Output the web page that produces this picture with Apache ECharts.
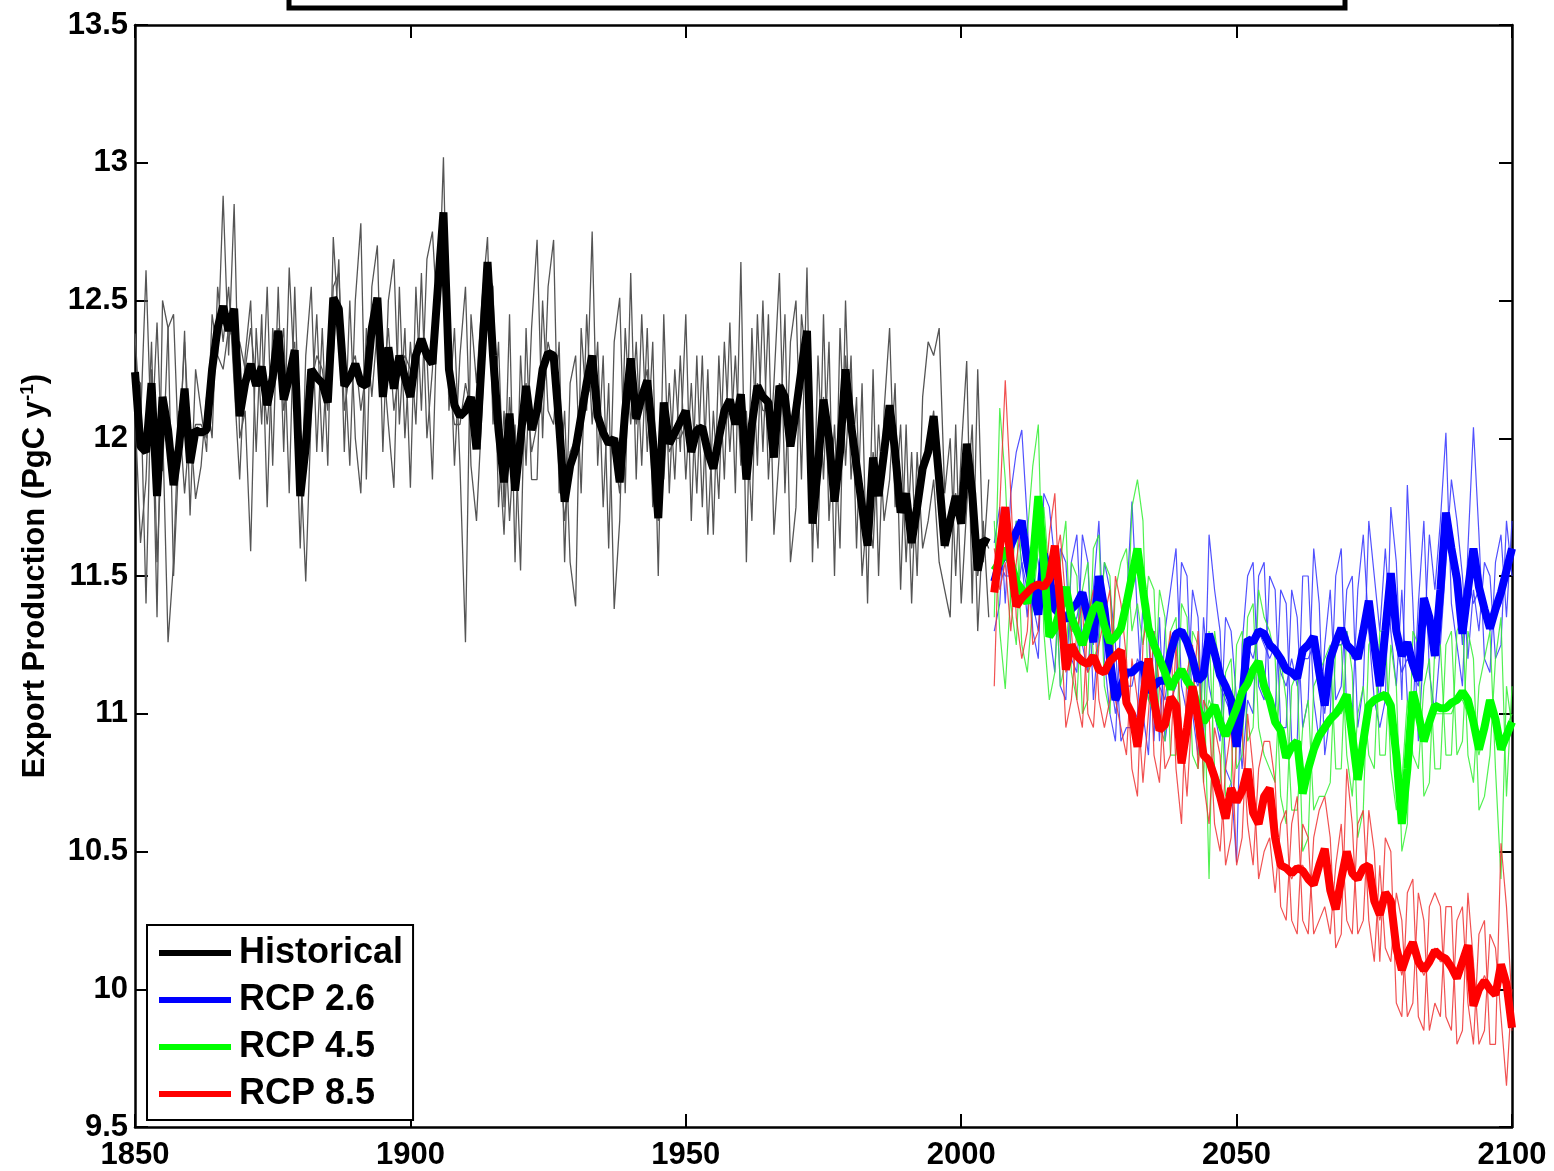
<!DOCTYPE html>
<html>
<head>
<meta charset="utf-8">
<script src="https://cdn.jsdelivr.net/npm/echarts@6/dist/echarts.min.js"></script>
<style>
html,body{margin:0;padding:0;background:#fff;}
#chart{width:1554px;height:1171px;}
</style>
</head>
<body>
<div id="chart"></div>
<script>
// ---------- DATA ----------
const histStart = 1850;   // historical runs 1850..2005
const rcpStart = 2006;    // scenarios 2006..2100
const xTicks = [1850, 1900, 1950, 2000, 2050, 2100];
const yTicks = [9.5, 10, 10.5, 11, 11.5, 12, 12.5, 13, 13.5];

const histMean = [
12.24,11.97,11.95,12.20,11.79,12.15,12.03,11.83,11.97,12.18,
11.91,12.03,12.02,12.03,12.25,12.40,12.48,12.39,12.47,12.08,
12.20,12.27,12.19,12.26,12.12,12.22,12.39,12.14,12.22,12.32,
11.79,11.97,12.25,12.22,12.20,12.13,12.51,12.47,12.19,12.22,
12.27,12.20,12.19,12.40,12.51,12.15,12.33,12.18,12.30,12.22,
12.15,12.30,12.36,12.30,12.27,12.55,12.82,12.25,12.12,12.08,
12.10,12.15,11.96,12.30,12.64,12.30,12.03,11.84,12.09,11.81,
12.00,12.19,12.03,12.10,12.25,12.31,12.30,12.05,11.77,11.90,
11.96,12.08,12.20,12.30,12.08,12.02,11.98,12.00,11.84,12.10,
12.29,12.07,12.15,12.21,12.00,11.71,12.13,11.98,12.02,12.06,
12.10,11.95,12.03,12.04,11.95,11.89,12.00,12.10,12.14,12.05,
12.16,11.85,12.05,12.19,12.15,12.13,11.93,12.19,12.15,11.97,
12.10,12.25,12.39,11.69,11.90,12.14,12.00,11.77,11.95,12.25,
12.05,11.90,11.75,11.61,11.93,11.79,11.95,12.12,11.95,11.73,
11.80,11.62,11.75,11.89,11.95,12.08,11.85,11.61,11.70,11.79,
11.69,11.98,11.80,11.52,11.63,11.62];

const histRunA = [
12.38,12.05,12.61,11.98,12.42,11.88,12.40,12.45,11.90,12.39,
11.72,12.25,12.10,11.95,12.45,12.30,12.88,12.30,12.85,12.00,
12.10,11.59,12.40,12.05,12.55,11.90,12.55,11.95,12.62,12.20,
11.60,12.30,12.55,11.95,12.40,11.90,12.73,12.40,12.30,11.90,
12.50,12.78,11.85,12.55,12.70,11.95,12.50,12.65,12.05,12.40,
11.82,12.55,12.10,12.65,12.75,12.40,13.02,12.10,12.40,11.90,
11.26,12.45,12.20,12.50,12.73,12.05,12.35,11.75,12.45,11.55,
12.30,11.90,12.40,12.72,12.00,12.55,12.72,11.80,12.10,11.55,
11.39,12.40,12.10,12.75,11.90,12.30,11.60,12.35,12.51,11.80,
12.60,11.85,12.45,11.95,12.35,11.50,12.45,11.80,12.25,11.95,
12.45,11.70,12.30,11.75,12.25,11.65,12.30,11.85,12.42,11.80,
12.64,11.55,12.40,11.90,12.50,11.85,12.20,12.60,11.80,12.35,
12.50,11.85,12.62,11.55,12.30,11.85,12.35,11.50,12.40,11.90,
12.30,11.60,12.20,11.40,12.25,11.50,12.10,12.40,11.75,12.05,
11.55,11.95,11.50,12.15,12.35,12.30,12.40,11.80,12.00,11.50,
11.95,12.28,11.40,12.25,11.55,11.85];

const histRunB = [
12.10,11.62,11.85,12.35,11.55,12.05,11.26,11.55,12.10,11.80,
12.05,11.78,11.90,12.15,12.00,12.55,12.35,12.55,12.20,11.85,
12.30,12.50,11.95,12.45,11.75,12.40,12.25,12.40,11.80,12.55,
11.95,11.48,12.10,12.45,11.95,12.35,12.30,12.65,11.95,12.50,
12.00,11.80,12.40,12.15,12.40,12.30,12.05,11.82,12.55,12.00,
12.35,12.05,12.60,12.00,12.25,12.70,12.65,12.45,11.90,12.30,
12.55,11.90,11.70,12.10,12.60,12.55,11.75,12.10,11.70,12.05,
11.52,12.40,11.85,11.85,12.50,12.10,12.05,12.35,11.55,12.20,
12.30,11.80,12.45,12.05,12.35,11.75,12.20,11.38,11.70,12.40,
12.05,12.35,11.90,12.40,11.75,11.95,11.85,12.20,11.85,12.30,
11.85,12.20,11.80,12.30,11.65,12.10,11.78,12.35,11.95,12.30,
11.90,12.10,11.70,12.45,11.95,12.45,11.65,11.95,12.45,11.55,
11.75,12.45,12.25,11.90,11.60,12.45,11.70,12.05,11.60,12.50,
11.85,12.15,11.50,11.75,11.60,12.05,11.70,11.85,12.20,11.45,
12.05,11.40,11.95,11.60,11.70,11.85,11.55,11.45,11.35,12.05,
11.40,11.75,12.05,11.30,11.70,11.35];

const histRunC = [
12.22,12.20,11.40,12.25,11.35,12.50,12.40,11.50,11.95,12.35,
11.95,12.05,12.05,12.00,12.28,12.30,12.25,12.40,12.35,12.35,
12.25,12.40,12.20,12.25,12.05,12.30,12.40,12.10,12.25,12.35,
11.85,12.10,12.20,12.30,12.25,12.10,12.55,12.60,12.10,12.25,
12.30,12.10,12.25,12.45,12.45,12.20,12.40,12.10,12.25,12.30,
12.25,12.25,12.35,12.30,11.85,12.55,12.75,12.20,12.05,12.05,
12.20,12.10,12.00,12.35,12.55,12.25,12.00,11.65,12.15,11.85,
12.10,12.20,11.95,12.05,12.20,12.35,12.25,11.95,11.70,11.95,
12.00,12.05,12.15,12.20,12.05,12.05,12.00,11.95,11.80,12.15,
12.25,12.05,12.15,12.25,11.90,11.70,12.10,11.95,12.00,12.00,
12.05,11.95,12.05,12.00,11.95,11.90,11.95,12.05,12.10,12.05,
12.15,11.90,12.05,12.20,12.10,12.10,11.95,12.20,12.15,12.00,
12.10,12.25,12.35,11.70,11.85,12.15,11.95,11.80,11.90,12.30,
12.00,11.95,11.75,11.65,11.95,11.80,11.95,12.10,11.95,11.75,
11.80,11.60,11.75,11.90,11.95,12.10,11.80,11.60,11.75,11.80,
11.70,11.95,11.80,11.50,11.65,11.60];

const rcp26Mean = [
11.48,11.55,11.58,11.61,11.66,11.70,11.55,11.45,11.36,11.58,
11.50,11.38,11.36,11.34,11.38,11.40,11.44,11.35,11.26,11.50,
11.38,11.20,11.05,11.10,11.15,11.15,11.17,11.18,11.08,11.10,
11.12,11.12,11.22,11.29,11.30,11.26,11.20,11.12,11.14,11.29,
11.22,11.14,11.10,11.05,10.88,11.05,11.27,11.26,11.30,11.29,
11.25,11.23,11.20,11.16,11.15,11.13,11.23,11.25,11.28,11.15,
11.03,11.20,11.26,11.31,11.25,11.23,11.20,11.30,11.41,11.25,
11.10,11.30,11.51,11.30,11.21,11.26,11.18,11.12,11.42,11.35,
11.21,11.45,11.73,11.60,11.49,11.29,11.45,11.60,11.46,11.38,
11.31,11.38,11.44,11.52,11.60];
const rcp26RunA = [
11.62,11.75,11.40,11.80,11.95,12.03,11.70,11.30,11.20,11.80,
11.75,11.55,11.10,11.05,11.55,11.65,11.25,11.15,11.45,11.70,
11.20,11.00,10.90,11.35,11.40,11.77,11.35,11.00,10.85,11.30,
10.90,11.30,11.45,11.60,11.10,11.00,11.45,11.35,10.90,11.65,
11.45,11.30,10.80,10.75,10.46,11.25,11.50,11.55,11.10,11.05,
11.50,11.45,10.95,10.95,11.45,11.35,10.95,11.05,11.60,11.40,
10.85,11.00,11.50,11.60,11.00,11.00,11.45,11.65,11.30,11.05,
10.95,11.05,11.75,11.55,11.05,11.83,11.40,10.90,11.25,11.65,
11.45,11.70,12.02,11.40,11.25,11.10,11.60,12.04,11.65,11.20,
11.15,11.55,11.65,11.35,11.70];
const rcp26RunB = [
11.30,11.40,11.75,11.50,11.40,11.55,11.35,11.65,11.55,11.40,
11.30,11.15,11.60,11.55,11.20,11.15,11.65,11.55,11.05,11.30,
11.55,11.45,11.25,10.90,10.95,10.95,11.00,11.40,11.30,10.90,
11.35,10.90,11.05,11.10,11.55,11.50,11.00,10.85,11.35,11.10,
11.00,10.90,11.35,11.30,11.05,10.80,11.05,11.00,11.50,11.55,
11.05,11.00,11.45,11.40,10.90,10.90,11.50,11.50,11.05,10.90,
11.25,11.45,11.05,11.10,11.45,11.50,10.95,11.10,11.70,11.50,
11.30,11.60,11.30,11.10,11.45,11.05,11.00,11.40,11.70,11.15,
11.00,11.25,11.55,11.85,11.70,11.50,11.20,11.45,11.30,11.55,
11.50,11.20,11.25,11.70,11.50];
const rcp26RunC = [
11.50,11.55,11.50,11.50,11.70,11.55,11.45,11.40,11.30,11.60,
11.45,11.40,11.35,11.40,11.30,11.35,11.45,11.30,11.25,11.45,
11.35,11.15,11.00,11.15,11.10,11.10,11.20,11.15,11.05,11.10,
11.10,11.05,11.20,11.25,11.30,11.25,11.15,11.10,11.20,11.25,
11.20,11.10,11.05,11.00,10.90,11.00,11.25,11.20,11.30,11.25,
11.20,11.25,11.15,11.10,11.20,11.10,11.20,11.20,11.25,11.15,
11.00,11.20,11.25,11.25,11.30,11.20,11.20,11.25,11.35,11.20,
11.05,11.30,11.45,11.25,11.15,11.20,11.15,11.10,11.35,11.30,
11.20,11.40,11.65,11.55,11.50,11.25,11.50,11.40,11.45,11.40,
11.30,11.35,11.40,11.50,11.60];

const rcp45Mean = [
11.52,11.55,11.60,11.55,11.48,11.45,11.40,11.55,11.79,11.55,
11.28,11.31,11.38,11.46,11.35,11.30,11.25,11.32,11.38,11.40,
11.32,11.26,11.28,11.31,11.40,11.50,11.60,11.45,11.31,11.25,
11.20,11.15,11.09,11.13,11.16,11.12,11.09,11.02,10.97,11.00,
11.03,10.97,10.92,10.97,11.02,11.08,11.11,11.16,11.19,11.10,
11.05,10.97,10.94,10.84,10.88,10.90,10.71,10.80,10.87,10.92,
10.95,10.98,11.00,11.03,11.07,10.92,10.76,10.90,11.03,11.05,
11.06,11.07,11.03,10.85,10.60,10.80,11.08,11.00,10.90,10.97,
11.03,11.02,11.02,11.04,11.05,11.08,11.05,10.97,10.87,10.95,
11.05,10.98,10.87,10.92,10.97];
const rcp45RunA = [
11.35,12.11,11.85,11.40,11.25,11.70,11.65,11.90,12.05,11.30,
11.05,11.15,11.55,11.70,11.15,11.05,11.45,11.55,11.20,11.25,
11.55,11.50,11.05,11.10,11.20,11.75,11.85,11.70,11.05,11.00,
11.45,11.35,10.85,10.85,11.40,11.35,10.85,10.80,11.20,10.40,
11.30,11.15,10.70,10.75,11.25,11.30,10.90,10.95,11.45,11.35,
11.30,11.20,10.70,10.60,11.10,11.15,10.50,10.55,11.10,11.15,
11.20,11.25,10.80,10.80,11.30,11.15,10.55,10.65,11.25,11.30,
10.85,10.85,11.25,11.10,10.50,10.60,11.30,11.25,10.70,10.75,
11.25,11.25,10.85,10.85,11.30,11.35,10.85,10.75,11.10,11.20,
11.30,10.80,10.40,11.10,10.95];
const rcp45RunB = [
11.70,11.30,11.09,11.45,11.70,11.25,11.15,11.40,11.60,11.75,
11.50,11.55,11.10,11.20,11.55,11.50,11.00,11.05,11.60,11.65,
11.10,11.00,11.45,11.55,11.60,11.30,11.40,11.25,11.50,11.45,
10.95,10.90,11.30,11.35,10.90,10.95,11.30,11.25,10.75,11.30,
10.80,10.75,11.15,11.20,10.80,10.85,11.35,11.40,10.95,10.85,
10.80,10.75,11.20,11.05,10.65,10.65,10.95,11.05,10.65,10.70,
10.70,10.75,11.25,11.25,10.85,10.70,11.00,11.10,10.85,10.80,
11.30,11.30,10.80,10.65,10.75,11.05,10.85,10.80,11.10,11.20,
10.80,10.80,11.25,11.30,10.85,10.90,11.30,11.20,10.65,10.70,
10.85,11.20,11.35,10.70,11.10];
const rcp45RunC = [
11.50,11.50,11.60,11.55,11.45,11.45,11.40,11.50,11.70,11.55,
11.30,11.30,11.35,11.45,11.30,11.30,11.25,11.30,11.35,11.40,
11.30,11.25,11.30,11.30,11.40,11.45,11.55,11.40,11.35,11.25,
11.20,11.15,11.10,11.15,11.15,11.10,11.05,11.00,10.95,11.05,
11.00,10.95,10.95,11.00,11.00,11.10,11.10,11.15,11.15,11.10,
11.05,10.95,10.95,10.85,10.90,10.90,10.75,10.80,10.85,10.90,
10.95,11.00,11.00,11.00,11.05,10.90,10.80,10.90,11.00,11.05,
11.05,11.05,11.00,10.85,10.60,10.80,11.05,11.00,10.90,10.95,
11.00,11.00,11.00,11.00,11.05,11.05,11.00,10.95,10.85,10.95,
11.05,11.00,10.90,10.95,11.00];

const rcp85Mean = [
11.44,11.60,11.75,11.55,11.39,11.42,11.44,11.46,11.47,11.46,
11.49,11.61,11.40,11.16,11.25,11.21,11.19,11.18,11.21,11.16,
11.15,11.19,11.21,11.23,11.04,11.00,10.88,11.05,11.20,11.05,
10.94,10.96,11.06,11.03,10.82,10.95,11.10,10.98,10.85,10.83,
10.77,10.70,10.62,10.73,10.68,10.72,10.80,10.64,10.60,10.70,
10.73,10.55,10.45,10.44,10.42,10.44,10.43,10.40,10.38,10.45,
10.51,10.36,10.29,10.40,10.50,10.42,10.40,10.44,10.45,10.32,
10.27,10.35,10.32,10.15,10.07,10.13,10.17,10.10,10.07,10.10,
10.14,10.12,10.11,10.08,10.04,10.10,10.16,9.94,10.00,10.03,
10.00,9.98,10.09,10.02,9.86];
const rcp85RunA = [
11.10,11.75,12.21,11.80,11.35,11.20,11.30,11.65,11.75,11.40,
11.65,11.80,11.35,10.95,11.05,11.30,11.40,11.00,10.95,11.25,
11.35,11.45,11.05,10.95,10.85,11.20,11.05,10.75,11.00,11.30,
11.10,10.80,10.85,11.25,10.95,10.70,11.05,11.30,10.75,10.60,
10.95,10.85,10.45,10.55,10.90,10.95,10.60,10.45,10.80,10.90,
10.90,10.75,10.30,10.25,10.60,10.70,10.25,10.20,10.55,10.65,
10.70,10.55,10.15,10.20,10.80,10.60,10.20,10.25,10.65,10.50,
10.10,10.55,10.50,9.95,9.90,10.35,10.40,9.90,9.85,10.30,
10.35,10.30,9.90,9.85,10.25,10.30,9.95,9.80,10.20,10.25,
9.80,9.80,10.53,10.30,9.95];
const rcp85RunB = [
11.60,11.45,11.55,11.30,11.55,11.70,11.60,11.25,11.30,11.60,
11.30,11.55,11.65,11.40,11.30,11.05,10.95,11.35,11.45,11.05,
10.95,11.05,11.50,11.40,11.20,10.80,10.70,11.25,11.40,10.85,
10.75,11.15,11.30,10.80,10.60,11.15,11.25,10.80,11.05,11.00,
10.60,10.50,10.80,10.95,10.45,10.55,11.00,10.80,10.40,10.50,
10.55,10.35,10.60,10.65,10.25,10.20,10.60,10.55,10.20,10.25,
10.30,10.20,10.45,10.60,10.25,10.20,10.60,10.65,10.25,10.10,
10.45,10.15,10.10,10.35,10.25,9.90,9.95,10.35,10.25,9.85,
9.95,9.90,10.30,10.30,9.80,9.85,10.35,10.10,9.80,9.85,
10.20,10.15,9.90,9.65,10.00];
const rcp85RunC = [
11.45,11.55,11.70,11.55,11.40,11.40,11.45,11.45,11.45,11.45,
11.45,11.60,11.40,11.15,11.25,11.20,11.20,11.15,11.20,11.15,
11.15,11.20,11.20,11.20,11.05,11.00,10.90,11.05,11.20,11.05,
10.95,10.95,11.05,11.00,10.85,10.95,11.05,10.95,10.85,10.85,
10.75,10.70,10.65,10.70,10.70,10.70,10.80,10.65,10.60,10.70,
10.70,10.55,10.45,10.45,10.40,10.45,10.45,10.40,10.40,10.45,
10.50,10.35,10.30,10.40,10.50,10.40,10.40,10.45,10.45,10.35,
10.25,10.35,10.30,10.15,10.05,10.15,10.15,10.10,10.05,10.10,
10.15,10.10,10.10,10.10,10.05,10.10,10.15,9.95,10.00,10.05,
10.00,10.00,10.05,10.05,9.85];

// ---------- CHART ----------
function pairs(start, arr) { return arr.map(function (v, i) { return [start + i, v]; }); }

const FONT = 'Liberation Sans, Arial, sans-serif';

function thin(name, start, arr, color, w, op) {
  return {
    name: name, type: 'line', data: pairs(start, arr), showSymbol: false, symbol: 'none',
    color: color, lineStyle: { color: color, width: w, opacity: op }, z: 2, silent: true
  };
}
function thick(name, start, arr, color, w, z) {
  return {
    name: name, type: 'line', data: pairs(start, arr), showSymbol: false, symbol: 'none',
    color: color, lineStyle: { color: color, width: w }, z: z, silent: true
  };
}

const series = [
  thin('hist a', histStart, histRunA, '#555555', 1.3, 1),
  thin('hist b', histStart, histRunB, '#555555', 1.3, 1),
  thin('hist c', histStart, histRunC, '#555555', 1.3, 1),
  thick('Historical', histStart, histMean, '#000000', 8, 3),
  thin('rcp26 a', rcpStart, rcp26RunA, '#3333ff', 1.2, 0.85),
  thin('rcp26 b', rcpStart, rcp26RunB, '#3333ff', 1.2, 0.85),
  thin('rcp26 c', rcpStart, rcp26RunC, '#3333ff', 1.2, 0.85),
  thin('rcp45 a', rcpStart, rcp45RunA, '#33ee33', 1.2, 0.85),
  thin('rcp45 b', rcpStart, rcp45RunB, '#33ee33', 1.2, 0.85),
  thin('rcp45 c', rcpStart, rcp45RunC, '#33ee33', 1.2, 0.85),
  thin('rcp85 a', rcpStart, rcp85RunA, '#ee3333', 1.2, 0.85),
  thin('rcp85 b', rcpStart, rcp85RunB, '#ee3333', 1.2, 0.85),
  thin('rcp85 c', rcpStart, rcp85RunC, '#ee3333', 1.2, 0.85),
  thick('RCP 2.6', rcpStart, rcp26Mean, '#0000ff', 8, 4),
  thick('RCP 4.5', rcpStart, rcp45Mean, '#00ff00', 8, 5),
  thick('RCP 8.5', rcpStart, rcp85Mean, '#ff0000', 8, 6)
];

const axisLineStyle = { color: '#000', width: 2.5 };
const plain = function (v) { return String(v); };

const option = {
  animation: false,
  backgroundColor: '#ffffff',
  grid: { left: 135, top: 25, width: 1377, height: 1103, containLabel: false },
  xAxis: [{
    type: 'value', min: xTicks[0], max: xTicks[xTicks.length - 1], interval: 50,
    axisLine: { show: true, onZero: false, lineStyle: axisLineStyle },
    axisTick: { show: true, inside: true, length: 13, lineStyle: { color: '#000', width: 2 } },
    axisLabel: { color: '#000', fontFamily: FONT, fontWeight: 'bold', fontSize: 31, margin: 13, formatter: plain },
    splitLine: { show: false }
  }, {
    type: 'value', position: 'top', min: xTicks[0], max: xTicks[xTicks.length - 1], interval: 50,
    axisLine: { show: true, onZero: false, lineStyle: axisLineStyle },
    axisTick: { show: true, inside: true, length: 13, lineStyle: { color: '#000', width: 2 } },
    axisLabel: { show: false }, splitLine: { show: false }
  }],
  yAxis: [{
    type: 'value', min: yTicks[0], max: yTicks[yTicks.length - 1], interval: 0.5,
    axisLine: { show: true, onZero: false, lineStyle: axisLineStyle },
    axisTick: { show: true, inside: true, length: 13, lineStyle: { color: '#000', width: 2 } },
    axisLabel: { color: '#000', fontFamily: FONT, fontWeight: 'bold', fontSize: 31, margin: 7, formatter: plain },
    splitLine: { show: false },
    name: 'Export Production (PgC y{sup|-1})',
    nameLocation: 'middle', nameRotate: 90, nameGap: 83,
    nameTextStyle: {
      color: '#000', fontFamily: FONT, fontWeight: 'bold', fontSize: 31,
      rich: { sup: { color: '#000', fontFamily: FONT, fontWeight: 'bold', fontSize: 19, verticalAlign: 'top', padding: [0, 0, 15, 0] } }
    }
  }, {
    type: 'value', position: 'right', min: yTicks[0], max: yTicks[yTicks.length - 1], interval: 0.5,
    axisLine: { show: true, onZero: false, lineStyle: axisLineStyle },
    axisTick: { show: true, inside: true, length: 13, lineStyle: { color: '#000', width: 2 } },
    axisLabel: { show: false }, splitLine: { show: false }
  }],
  legend: {
    data: ['Historical', 'RCP 2.6', 'RCP 4.5', 'RCP 8.5'],
    orient: 'vertical', left: 147, top: 925,
    icon: 'rect', itemWidth: 72, itemHeight: 6, itemGap: 7,
    padding: [8, 10, 6, 12],
    borderColor: '#000', borderWidth: 2, backgroundColor: '#fff',
    textStyle: { color: '#000', fontFamily: FONT, fontWeight: 'bold', fontSize: 36, lineHeight: 40, padding: [0, 0, 0, 3] },
    selectedMode: false
  },
  graphic: [{
    type: 'rect', shape: { x: 289, y: -20, width: 1056, height: 28 },
    style: { fill: '#fff', stroke: '#000', lineWidth: 5 }, z: 100
  }],
  series: series
};

const chart = echarts.init(document.getElementById('chart'), null, { renderer: 'canvas' });
chart.setOption(option);
</script>
</body>
</html>
